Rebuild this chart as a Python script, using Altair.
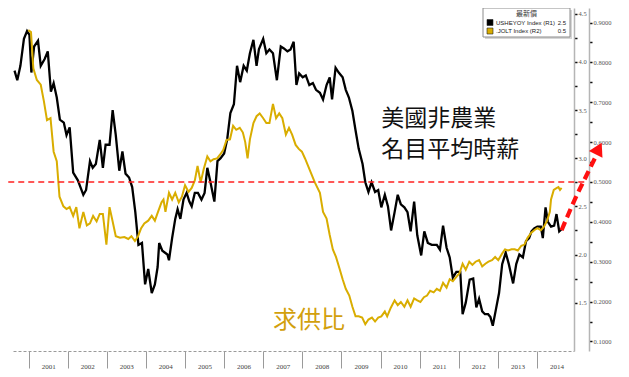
import altair as alt
import pandas as pd

# ---------------- data ----------------
black_t = [2000.64, 2000.71, 2000.79, 2000.88, 2000.96, 2001.02, 2001.07, 2001.14, 2001.24, 2001.31,
           2001.41, 2001.49, 2001.57, 2001.64, 2001.72, 2001.80, 2001.90, 2001.97, 2002.05, 2002.14,
           2002.26, 2002.40, 2002.47, 2002.57, 2002.64, 2002.72, 2002.82, 2002.90, 2002.97, 2003.07,
           2003.15, 2003.23, 2003.32, 2003.40, 2003.48, 2003.57, 2003.65, 2003.73, 2003.81, 2003.90,
           2003.98, 2004.06, 2004.15, 2004.23, 2004.30, 2004.34, 2004.42, 2004.55, 2004.59, 2004.67,
           2004.75, 2004.81, 2004.88, 2004.96, 2005.04, 2005.11, 2005.17, 2005.25, 2005.33, 2005.42,
           2005.50, 2005.57, 2005.64, 2005.75, 2005.83, 2005.91, 2006.00, 2006.08, 2006.16, 2006.25,
           2006.33, 2006.41, 2006.50, 2006.58, 2006.66, 2006.75, 2006.83, 2006.89, 2007.00, 2007.08,
           2007.16, 2007.25, 2007.35, 2007.45, 2007.53, 2007.62, 2007.70, 2007.78, 2007.85, 2007.92,
           2008.01, 2008.09, 2008.18, 2008.27, 2008.35, 2008.45, 2008.53, 2008.62, 2008.70, 2008.76,
           2008.85, 2008.93, 2009.03, 2009.11, 2009.19, 2009.28, 2009.36, 2009.44, 2009.54, 2009.61,
           2009.69, 2009.77, 2009.86, 2009.94, 2010.02, 2010.11, 2010.19, 2010.27, 2010.36, 2010.44,
           2010.52, 2010.61, 2010.69, 2010.77, 2010.86, 2010.94, 2011.04, 2011.12, 2011.21, 2011.31,
           2011.44, 2011.52, 2011.60, 2011.69, 2011.77, 2011.85, 2011.94, 2012.04, 2012.10, 2012.18,
           2012.28, 2012.37, 2012.45, 2012.52, 2012.60, 2012.67, 2012.75, 2012.81, 2012.87, 2012.95,
           2013.03, 2013.11, 2013.20, 2013.28, 2013.39, 2013.47, 2013.55, 2013.64, 2013.72, 2013.80,
           2013.86, 2013.93, 2014.01, 2014.10, 2014.15, 2014.22, 2014.28, 2014.36, 2014.44, 2014.50,
           2014.57, 2014.65]
black_v = [3.91, 3.81, 3.96, 4.24, 4.32, 4.28, 3.89, 4.16, 4.22, 3.96,
           4.03, 4.11, 3.69, 3.78, 3.63, 3.40, 3.37, 3.24, 3.32, 2.85,
           2.77, 2.62, 2.67, 2.97, 2.90, 2.94, 3.19, 2.90, 3.14, 3.14,
           3.50, 3.24, 2.87, 3.07, 2.84, 2.80, 2.70, 2.44, 2.10, 2.12,
           1.69, 1.85, 1.60, 1.69, 1.87, 2.12, 2.04, 2.00, 1.94, 2.17,
           2.37, 2.47, 2.37, 2.57, 2.64, 2.55, 2.50, 2.64, 2.64, 2.57,
           2.64, 2.90, 2.77, 2.55, 2.97, 3.00, 3.05, 3.20, 3.47, 3.56,
           3.96, 3.79, 3.96, 3.91, 4.09, 4.23, 3.96, 4.13, 4.24, 4.09,
           4.13, 4.09, 3.81, 4.16, 4.14, 4.11, 4.13, 4.21, 3.76, 3.88,
           3.84, 3.86, 3.76, 3.78, 3.71, 3.68, 3.61, 3.76, 3.84, 3.61,
           3.94, 3.89, 3.84, 3.71, 3.63, 3.49, 3.29, 3.10, 2.94, 2.75,
           2.65, 2.75, 2.65, 2.67, 2.49, 2.62, 2.50, 2.25, 2.44, 2.62,
           2.52, 2.49, 2.44, 2.24, 2.55, 2.20, 1.99, 2.24, 2.12, 2.10,
           2.10, 2.05, 2.30, 2.07, 1.97, 1.76, 1.82, 1.82, 1.38, 1.50,
           1.74, 1.75, 1.45, 1.54, 1.41, 1.38, 1.38, 1.35, 1.26, 1.43,
           1.60, 1.90, 2.02, 1.90, 1.70, 1.90, 2.00, 1.97, 2.14, 2.17,
           2.24, 2.27, 2.29, 2.29, 2.17, 2.49, 2.34, 2.29, 2.30, 2.42,
           2.24, 2.27]

gold_t = [2000.99, 2001.06, 2001.12, 2001.21, 2001.31, 2001.39, 2001.47, 2001.56, 2001.64, 2001.72,
          2001.79, 2001.89, 2001.97, 2002.05, 2002.14, 2002.22, 2002.30, 2002.40, 2002.49, 2002.57,
          2002.65, 2002.74, 2002.82, 2002.90, 2002.99, 2003.07, 2003.15, 2003.23, 2003.34, 2003.45,
          2003.55, 2003.63, 2003.72, 2003.80, 2003.88, 2003.96, 2004.06, 2004.15, 2004.23, 2004.31,
          2004.40, 2004.45, 2004.50, 2004.59, 2004.67, 2004.75, 2004.84, 2004.92, 2005.00, 2005.09,
          2005.17, 2005.25, 2005.32, 2005.40, 2005.48, 2005.57, 2005.65, 2005.73, 2005.82, 2005.90,
          2005.98, 2006.06, 2006.15, 2006.23, 2006.31, 2006.40, 2006.48, 2006.54, 2006.60, 2006.66,
          2006.75, 2006.83, 2006.91, 2007.00, 2007.08, 2007.16, 2007.25, 2007.33, 2007.41, 2007.49,
          2007.58, 2007.66, 2007.74, 2007.83, 2007.91, 2007.99, 2008.07, 2008.20, 2008.32, 2008.45,
          2008.53, 2008.62, 2008.70, 2008.78, 2008.86, 2008.95, 2009.03, 2009.11, 2009.20, 2009.28,
          2009.36, 2009.44, 2009.53, 2009.61, 2009.69, 2009.78, 2009.86, 2009.94, 2010.02, 2010.11,
          2010.17, 2010.26, 2010.36, 2010.44, 2010.52, 2010.61, 2010.69, 2010.77, 2010.86, 2010.94,
          2011.02, 2011.11, 2011.19, 2011.27, 2011.36, 2011.44, 2011.52, 2011.60, 2011.69, 2011.77,
          2011.85, 2011.94, 2012.02, 2012.10, 2012.18, 2012.27, 2012.35, 2012.43, 2012.52, 2012.60,
          2012.68, 2012.76, 2012.85, 2012.93, 2013.01, 2013.10, 2013.18, 2013.26, 2013.35, 2013.43,
          2013.51, 2013.60, 2013.68, 2013.76, 2013.85, 2013.93, 2014.01, 2014.10, 2014.18, 2014.26,
          2014.33, 2014.36, 2014.43, 2014.51, 2014.55, 2014.59, 2014.63]
gold_v = [0.881, 0.876, 0.785, 0.756, 0.744, 0.703, 0.655, 0.660, 0.576, 0.552,
          0.463, 0.439, 0.432, 0.437, 0.415, 0.437, 0.384, 0.425, 0.391, 0.396,
          0.415, 0.401, 0.420, 0.420, 0.343, 0.437, 0.401, 0.364, 0.360, 0.362,
          0.357, 0.364, 0.352, 0.364, 0.384, 0.396, 0.403, 0.415, 0.403, 0.425,
          0.449, 0.456, 0.425, 0.473, 0.456, 0.473, 0.449, 0.463, 0.492, 0.475,
          0.485, 0.504, 0.540, 0.499, 0.533, 0.564, 0.552, 0.557, 0.559, 0.569,
          0.581, 0.605, 0.607, 0.641, 0.631, 0.636, 0.624, 0.600, 0.559, 0.607,
          0.648, 0.665, 0.672, 0.660, 0.648, 0.648, 0.696, 0.660, 0.672, 0.660,
          0.619, 0.636, 0.619, 0.593, 0.583, 0.576, 0.559, 0.528, 0.499, 0.473,
          0.425, 0.408, 0.367, 0.331, 0.312, 0.283, 0.256, 0.232, 0.215, 0.187,
          0.163, 0.163, 0.160, 0.143, 0.155, 0.160, 0.150, 0.160, 0.163, 0.175,
          0.163, 0.184, 0.203, 0.191, 0.199, 0.187, 0.203, 0.187, 0.208, 0.203,
          0.199, 0.211, 0.215, 0.227, 0.223, 0.232, 0.227, 0.247, 0.235, 0.256,
          0.251, 0.262, 0.271, 0.295, 0.280, 0.300, 0.292, 0.300, 0.304, 0.288,
          0.295, 0.300, 0.304, 0.312, 0.304, 0.319, 0.331, 0.328, 0.331, 0.331,
          0.328, 0.340, 0.343, 0.360, 0.372, 0.379, 0.384, 0.379, 0.388, 0.403,
          0.425, 0.456, 0.480, 0.485, 0.487, 0.480, 0.485]

assert len(black_t) == len(black_v)
assert len(gold_t) == len(gold_v)

year_ticks = list(range(2001, 2015))
r1_ticks = [1.5 + 0.25 * i for i in range(13)]            # 1.5 ... 4.5
r2_ticks = [round(0.1 + 0.05 * i, 2) for i in range(17)]   # 0.1 ... 0.9

legend_title = "最新價"
legend_names = ["USHEYOY Index  (R1)", ".JOLT Index  (R2)"]
legend_last = ["2.5", "0.5"]

ref_level = [0.5]                       # red dashed level on R2
ref_span = [2000.48, 2015.22]

arrow_t = [2014.63, 2014.95, 2015.27, 2015.52]
arrow_v = [0.379, 0.452, 0.517, 0.567]
arrow_head_t = [2015.58]
arrow_head_v = [0.584]

wage_label = ["美國非農業", "名目平均時薪"]
wage_t = [2010.02, 2010.02]
wage_v = [3.405, 3.087]

ratio_label = ["求供比"]
ratio_t = [2007.25]
ratio_v = [1.306]

BLACK = "#000000"
GOLD = "#d9ad00"
GOLD_TEXT = "#d2a00c"


def to_date(t):
    y = int(t)
    start = pd.Timestamp(year=y, month=1, day=1)
    end = pd.Timestamp(year=y + 1, month=1, day=1)
    return (start + (end - start) * (t - y)).strftime("%Y-%m-%dT%H:%M:%S")


black_df = pd.DataFrame({"date": [to_date(t) for t in black_t], "v": black_v})
gold_df = pd.DataFrame({"date": [to_date(t) for t in gold_t], "v": gold_v})
rule_df = pd.DataFrame({"date": [to_date(ref_span[0])], "date2": [to_date(ref_span[1])], "v": ref_level})
arrow_df = pd.DataFrame({"date": [to_date(t) for t in arrow_t], "v": arrow_v, "o": list(range(len(arrow_t)))})
head_df = pd.DataFrame({"date": [to_date(t) for t in arrow_head_t], "v": arrow_head_v})
wage_df = pd.DataFrame({"date": [to_date(t) for t in wage_t], "v": wage_v, "label": wage_label})
ratio_df = pd.DataFrame({"date": [to_date(t) for t in ratio_t], "v": ratio_v, "label": ratio_label})
one_row = pd.DataFrame({"k": [0]})

# ---------------- scales / axes ----------------
x_scale = alt.Scale(domain=[alt.DateTime(year=2000, month=8, date=8),
                            alt.DateTime(year=2014, month=12, date=13)])
r1_scale = alt.Scale(domain=[0.998, 4.56], nice=False, zero=False)
r2_scale = alt.Scale(domain=[0.076, 0.9365], nice=False, zero=False)

x_axis = alt.Axis(values=[alt.DateTime(year=y, month=1, date=1) for y in year_ticks],
                  format="%Y", title=None, grid=False,
                  tickSize=17, tickColor="#9a9a9a", tickWidth=1,
                  labelOffset=19.5, labelPadding=-6, labelFontSize=7,
                  labelFont="Liberation Serif", labelColor="#444",
                  labelFlush=False, labelOverlap=False, labelBound=False,
                  domainColor="#9a9a9a", domainDash=[3, 2], domainWidth=1)

common_y = dict(orient="right", title=None, grid=False, tickSize=3, tickColor="#111",
                tickWidth=1.5, labelFontSize=6.5, labelFont="Liberation Serif",
                labelColor="#555", labelPadding=1, domainColor="#b5b5b5", domainWidth=1.5,
                labelOverlap=False, labelFlush=False)

r1_axis = alt.Axis(values=r1_ticks, offset=0,
                   labelExpr="(round(datum.value*100) % 50 == 0) ? format(datum.value, '.1f') : ''",
                   **common_y)
r2_axis = alt.Axis(values=r2_ticks, offset=15,
                   labelExpr="(round(datum.value*100) % 10 == 0) ? format(datum.value, '.4f') : ''",
                   **common_y)

x_enc = alt.X("date:T", scale=x_scale, axis=x_axis)

black_line = alt.Chart(black_df).mark_line(strokeWidth=2.3, color=BLACK).encode(
    x=x_enc,
    y=alt.Y("v:Q", scale=r1_scale, axis=r1_axis),
)

gold_line = alt.Chart(gold_df).mark_line(strokeWidth=2, color=GOLD).encode(
    x=x_enc,
    y=alt.Y("v:Q", scale=r2_scale, axis=r2_axis),
)

red_rule = alt.Chart(rule_df).mark_rule(color="#ff2020", strokeDash=[6, 4], strokeWidth=1.5,
                                        clip=False).encode(
    x=x_enc,
    x2="date2:T",
    y=alt.Y("v:Q", scale=r2_scale, axis=None),
)

arrow_line = alt.Chart(arrow_df).mark_line(color="#ff1010", strokeWidth=4.2, strokeDash=[9, 5],
                                           interpolate="monotone", clip=False).encode(
    x=x_enc,
    y=alt.Y("v:Q", scale=r2_scale, axis=None),
    order="o:Q",
)

arrow_head = alt.Chart(head_df).mark_point(shape="triangle-up", filled=True, size=230,
                                           color="#ff1010", opacity=1, angle=27,
                                           clip=False).encode(
    x=x_enc,
    y=alt.Y("v:Q", scale=r2_scale, axis=None),
)

wage_text = alt.Chart(wage_df).mark_text(font="Noto Sans CJK TC", fontSize=23, align="left",
                                         baseline="middle", color="#111").encode(
    x=x_enc,
    y=alt.Y("v:Q", scale=r1_scale, axis=None),
    text="label:N",
)

ratio_text = alt.Chart(ratio_df).mark_text(font="Noto Sans CJK TC", fontSize=24, align="left",
                                           baseline="middle", color=GOLD_TEXT).encode(
    x=x_enc,
    y=alt.Y("v:Q", scale=r1_scale, axis=None),
    text="label:N",
)

# ---------------- legend box (Bloomberg style) ----------------
LX0, LX1, LY0, LY1 = 470, 557, 0, 29
legend_box = alt.Chart(one_row).mark_rect(fill="white", stroke="#8c8c8c", strokeWidth=1).encode(
    x=alt.value(LX0), x2=alt.value(LX1), y=alt.value(LY0), y2=alt.value(LY1))
legend_shadow = alt.Chart(one_row).mark_rect(fill="#d6d6d6").encode(
    x=alt.value(LX0 + 2), x2=alt.value(LX1 + 2), y=alt.value(LY0 + 2), y2=alt.value(LY1 + 2))
legend_head = alt.Chart(one_row).mark_text(font="Noto Sans CJK TC", fontSize=7, color="#333",
                                           align="center", baseline="middle").encode(
    x=alt.value((LX0 + LX1) / 2), y=alt.value(6), text=alt.value(legend_title))

legend_layers = [legend_shadow, legend_box, legend_head]
for i, (name, last, col) in enumerate(zip(legend_names, legend_last, [BLACK, GOLD])):
    yc = 14.5 + 8.5 * i
    legend_layers.append(
        alt.Chart(one_row).mark_rect(fill=col, stroke="#222", strokeWidth=0.6).encode(
            x=alt.value(LX0 + 4), x2=alt.value(LX0 + 10),
            y=alt.value(yc - 3), y2=alt.value(yc + 3)))
    legend_layers.append(
        alt.Chart(one_row).mark_text(font="Liberation Sans", fontSize=6, color="#222",
                                     align="left", baseline="middle").encode(
            x=alt.value(LX0 + 13), y=alt.value(yc), text=alt.value(name)))
    legend_layers.append(
        alt.Chart(one_row).mark_text(font="Liberation Sans", fontSize=6, color="#222",
                                     align="right", baseline="middle").encode(
            x=alt.value(LX1 - 4), y=alt.value(yc), text=alt.value(last)))

chart = alt.layer(
    black_line, gold_line, red_rule, arrow_line, arrow_head, wage_text, ratio_text,
    *legend_layers
).resolve_scale(
    y="independent"
).properties(
    width=561, height=343,
    padding={"left": 5, "top": 0, "right": 47, "bottom": 18},
    autosize=alt.AutoSizeParams(type="none"),
    background="white",
).configure_view(stroke=None)

chart.save("out.html", embed_options={"renderer": "svg", "actions": False})
